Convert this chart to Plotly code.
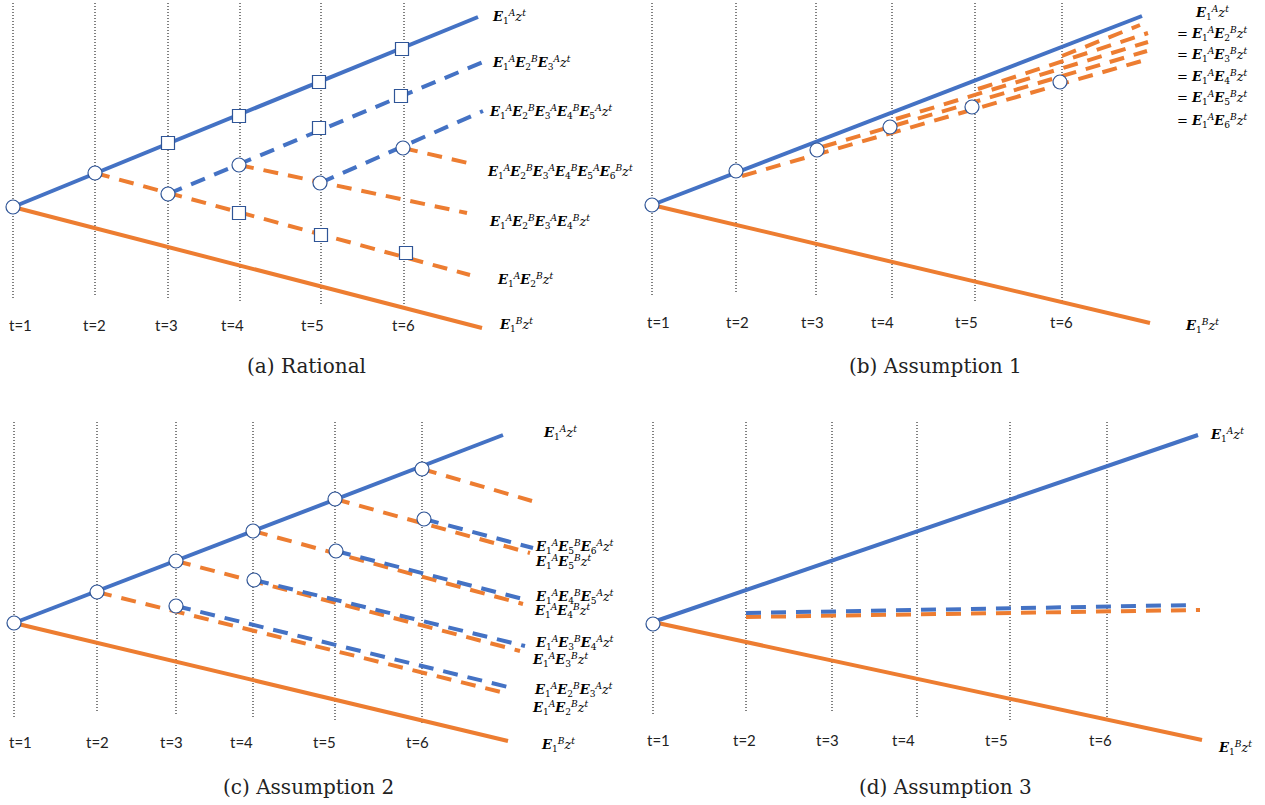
import plotly.graph_objects as go

BLUE = "#4472C4"
ORANGE = "#ED7D31"
EDGE = "#2F5597"
INK = "#222222"

T_LABELS = ["t=1", "t=2", "t=3", "t=4", "t=5", "t=6"]

# ---------------- panel (a) Rational ----------------
A_TX = [13, 95, 168, 240, 321, 404]
A_DOT_TOP = [3, 3, 3, 3, 3, 3]
A_DOT_BOT = [300, 297, 298, 302, 305, 307]
A_TLAB_X = [20, 94, 166, 232, 312, 403]
A_TLAB_Y = 325
A_BLUE_SOLID = [[(13, 207), (478, 17)]]
A_ORANGE_SOLID = [[(13, 207), (482, 328)]]
A_BLUE_DASH = [[(168, 194), (483, 62)], [(320, 183), (483, 111)]]
A_ORANGE_DASH = [[(95, 173), (470, 275)], [(239, 165), (467, 213)], [(403, 148), (468, 163)]]
A_CIRC_X = [13, 95, 168, 239, 320, 403]
A_CIRC_Y = [207, 173, 194, 165, 183, 148]
A_SQ_X = [168, 239, 319, 402, 319, 401, 239, 321, 406]
A_SQ_Y = [143, 116, 82, 49, 128, 96, 213, 235, 253]
A_LAB = [[("1", "A")], [("1", "A"), ("2", "B"), ("3", "A")],
         [("1", "A"), ("2", "B"), ("3", "A"), ("4", "B"), ("5", "A")],
         [("1", "A"), ("2", "B"), ("3", "A"), ("4", "B"), ("5", "A"), ("6", "B")],
         [("1", "A"), ("2", "B"), ("3", "A"), ("4", "B")],
         [("1", "A"), ("2", "B")], [("1", "B")]]
A_LAB_X = [490, 490, 487, 485, 487, 495, 497]
A_LAB_Y = [17, 63, 112, 172, 222, 280, 325]

# ---------------- panel (b) Assumption 1 ----------------
B_TX = [652, 736, 816, 892, 975, 1062]
B_DOT_TOP = [3, 3, 3, 3, 3, 3]
B_DOT_BOT = [297, 293, 295, 298, 302, 303]
B_TLAB_X = [658, 737, 812, 882, 966, 1061]
B_TLAB_Y = 322
B_BLUE_SOLID = [[(652, 205), (1142, 16)]]
B_ORANGE_SOLID = [[(652, 205), (1150, 323)]]
B_BLUE_DASH = []
B_ORANGE_DASH = [[(742, 176), (1145, 60)], [(822, 147), (1147, 51)], [(896, 119), (1148, 42)],
                 [(978, 89), (1148, 33)], [(1062, 56), (1140, 25)]]
B_CIRC_X = [652, 736, 817, 890, 972, 1060]
B_CIRC_Y = [205, 171, 150, 127, 107, 82]
B_STACK = [(None, [("1", "A")]), ("= ", [("1", "A"), ("2", "B")]), ("= ", [("1", "A"), ("3", "B")]),
           ("= ", [("1", "A"), ("4", "B")]), ("= ", [("1", "A"), ("5", "B")]),
           ("= ", [("1", "A"), ("6", "B")])]
B_STACK_X = 1212
B_STACK_Y = [13, 34, 55, 77, 98, 121]
B_LOW_LAB = [("1", "B")]
B_LOW_X, B_LOW_Y = 1183, 326

# ---------------- panel (c) Assumption 2 ----------------
C_TX = [14, 97, 176, 253, 335, 422]
C_DOT_TOP = [422, 422, 422, 422, 422, 422]
C_DOT_BOT = [717, 713, 715, 718, 722, 723]
C_TLAB_X = [20, 97, 171, 241, 324, 417]
C_TLAB_Y = 742
C_BLUE_SOLID = [[(14, 623), (503, 435)]]
C_ORANGE_SOLID = [[(14, 623), (508, 741)]]
C_ORANGE_DASH = [[(97, 592), (505, 693)], [(176, 561), (520, 651)], [(253, 531), (523, 604)],
                 [(335, 499), (530, 553)], [(422, 469), (532, 501)]]
C_BLUE_DASH = [[(176, 606), (508, 687)], [(254, 580), (525, 646)], [(336, 551), (527, 600)],
               [(424, 519), (533, 548)]]
C_CIRC_X = [14, 97, 176, 253, 335, 422, 176, 254, 336, 424]
C_CIRC_Y = [623, 592, 561, 531, 499, 469, 606, 580, 551, 519]
C_LAB = [[("1", "A")],
         [("1", "A"), ("5", "B"), ("6", "A")], [("1", "A"), ("5", "B")],
         [("1", "A"), ("4", "B"), ("5", "A")], [("1", "A"), ("4", "B")],
         [("1", "A"), ("3", "B"), ("4", "A")], [("1", "A"), ("3", "B")],
         [("1", "A"), ("2", "B"), ("3", "A")], [("1", "A"), ("2", "B")],
         [("1", "B")]]
C_LAB_X = [541, 533, 533, 533, 532, 533, 530, 532, 530, 539]
C_LAB_Y = [433, 547, 562, 597, 611, 643, 660, 690, 708, 745]

# ---------------- panel (d) Assumption 3 ----------------
D_TX = [653, 746, 832, 917, 1010, 1107]
D_DOT_TOP = [422, 422, 422, 422, 422, 422]
D_DOT_BOT = [715, 712, 713, 717, 720, 722]
D_TLAB_X = [658, 744, 827, 903, 996, 1100]
D_TLAB_Y = 740
D_BLUE_SOLID = [[(653, 622), (1198, 435)]]
D_ORANGE_SOLID = [[(653, 622), (1202, 740)]]
D_BLUE_DASH = [[(746, 613), (1193, 605)]]
D_ORANGE_DASH = [[(746, 617), (1200, 610)]]
D_CIRC_X = [653]
D_CIRC_Y = [624]
D_LAB = [[("1", "A")], [("1", "B")]]
D_LAB_X = [1208, 1216]
D_LAB_Y = [435, 748]

CAPTIONS = ["(a) Rational", "(b) Assumption 1", "(c) Assumption 2", "(d) Assumption 3"]
CAP_X = [306, 935, 308, 945]
CAP_Y = [366, 366, 787, 787]


def E(sub, sup):
    return f"<b><i>E</i></b><sub>{sub}</sub><sup><i>{sup}</i></sup>"


ZT = "<i>z</i><sup><i>t</i></sup>"


def expr(tokens, prefix=None):
    s = "".join(E(a, b) for a, b in tokens) + ZT
    return (prefix or "") + s


fig = go.Figure()
LAB_FONT = dict(family="DejaVu Serif", size=13, color="black")
T_FONT = dict(family="Lato", size=15, color=INK)
CAP_FONT = dict(family="DejaVu Serif", size=20, color=INK)
DASH = "15px,10px"
DOT = "1px,2px"


def add_seg(segs, color, dash, xa, ya, width=4):
    for p0, p1 in segs:
        fig.add_trace(go.Scatter(x=[p0[0], p1[0]], y=[p0[1], p1[1]], mode="lines",
                                 line=dict(color=color, width=width, dash=dash),
                                 xaxis=xa, yaxis=ya, hoverinfo="skip", showlegend=False))


def add_panel(tx, top, bot, tlx, tly, blue_s, orange_s, blue_d, orange_d, cx, cy, xa, ya,
              sqx=None, sqy=None):
    for x, t0, b0 in zip(tx, top, bot):
        fig.add_trace(go.Scatter(x=[x, x], y=[t0, b0], mode="lines",
                                 line=dict(color="black", width=1, dash=DOT),
                                 xaxis=xa, yaxis=ya, hoverinfo="skip", showlegend=False))
    add_seg(orange_d, ORANGE, DASH, xa, ya)
    add_seg(blue_d, BLUE, DASH, xa, ya)
    add_seg(blue_s, BLUE, "solid", xa, ya)
    add_seg(orange_s, ORANGE, "solid", xa, ya)
    fig.add_trace(go.Scatter(x=cx, y=cy, mode="markers",
                             marker=dict(symbol="circle", size=14, color="white",
                                         line=dict(color=EDGE, width=1.2)),
                             xaxis=xa, yaxis=ya, hoverinfo="skip", showlegend=False))
    if sqx:
        fig.add_trace(go.Scatter(x=sqx, y=sqy, mode="markers",
                                 marker=dict(symbol="square", size=13, color="white",
                                             line=dict(color=EDGE, width=1.2)),
                                 xaxis=xa, yaxis=ya, hoverinfo="skip", showlegend=False))
    for lab, x in zip(T_LABELS, tlx):
        fig.add_annotation(x=x, y=tly, text=lab, showarrow=False, xref=xa, yref=ya,
                           font=T_FONT, xanchor="center", yanchor="middle")


add_panel(A_TX, A_DOT_TOP, A_DOT_BOT, A_TLAB_X, A_TLAB_Y, A_BLUE_SOLID, A_ORANGE_SOLID,
          A_BLUE_DASH, A_ORANGE_DASH, A_CIRC_X, A_CIRC_Y, "x", "y", A_SQ_X, A_SQ_Y)
add_panel(B_TX, B_DOT_TOP, B_DOT_BOT, B_TLAB_X, B_TLAB_Y, B_BLUE_SOLID, B_ORANGE_SOLID,
          B_BLUE_DASH, B_ORANGE_DASH, B_CIRC_X, B_CIRC_Y, "x2", "y2")
add_panel(C_TX, C_DOT_TOP, C_DOT_BOT, C_TLAB_X, C_TLAB_Y, C_BLUE_SOLID, C_ORANGE_SOLID,
          C_BLUE_DASH, C_ORANGE_DASH, C_CIRC_X, C_CIRC_Y, "x3", "y3")
add_panel(D_TX, D_DOT_TOP, D_DOT_BOT, D_TLAB_X, D_TLAB_Y, D_BLUE_SOLID, D_ORANGE_SOLID,
          D_BLUE_DASH, D_ORANGE_DASH, D_CIRC_X, D_CIRC_Y, "x4", "y4")

for toks, x, y in zip(A_LAB, A_LAB_X, A_LAB_Y):
    fig.add_annotation(x=x, y=y, text=expr(toks), showarrow=False, xref="x", yref="y",
                       font=LAB_FONT, xanchor="left", yanchor="middle")
for (pre, toks), y in zip(B_STACK, B_STACK_Y):
    fig.add_annotation(x=B_STACK_X, y=y, text=expr(toks, pre), showarrow=False, xref="x2",
                       yref="y2", font=LAB_FONT, xanchor="center", yanchor="middle")
fig.add_annotation(x=B_LOW_X, y=B_LOW_Y, text=expr(B_LOW_LAB), showarrow=False, xref="x2",
                   yref="y2", font=LAB_FONT, xanchor="left", yanchor="middle")
for toks, x, y in zip(C_LAB, C_LAB_X, C_LAB_Y):
    fig.add_annotation(x=x, y=y, text=expr(toks), showarrow=False, xref="x3", yref="y3",
                       font=LAB_FONT, xanchor="left", yanchor="middle")
for toks, x, y in zip(D_LAB, D_LAB_X, D_LAB_Y):
    fig.add_annotation(x=x, y=y, text=expr(toks), showarrow=False, xref="x4", yref="y4",
                       font=LAB_FONT, xanchor="left", yanchor="middle")

for cap, x, y, xa, ya in zip(CAPTIONS, CAP_X, CAP_Y, ["x", "x2", "x3", "x4"], ["y", "y2", "y3", "y4"]):
    fig.add_annotation(x=x, y=y, text=cap, showarrow=False, xref=xa, yref=ya,
                       font=CAP_FONT, xanchor="center", yanchor="middle")

W, H = 1265, 805
SPLIT_X, SPLIT_Y = 635, 400
ax_common = dict(visible=False, showgrid=False, zeroline=False, fixedrange=True)
fig.update_layout(
    width=W, height=H, margin=dict(l=0, r=0, t=0, b=0),
    paper_bgcolor="white", plot_bgcolor="white", showlegend=False,
    xaxis=dict(domain=[0, SPLIT_X / W], range=[0, SPLIT_X], anchor="y", **ax_common),
    yaxis=dict(domain=[1 - SPLIT_Y / H, 1], range=[SPLIT_Y, 0], anchor="x", **ax_common),
    xaxis2=dict(domain=[SPLIT_X / W, 1], range=[SPLIT_X, W], anchor="y2", **ax_common),
    yaxis2=dict(domain=[1 - SPLIT_Y / H, 1], range=[SPLIT_Y, 0], anchor="x2", **ax_common),
    xaxis3=dict(domain=[0, SPLIT_X / W], range=[0, SPLIT_X], anchor="y3", **ax_common),
    yaxis3=dict(domain=[0, 1 - SPLIT_Y / H], range=[H, SPLIT_Y], anchor="x3", **ax_common),
    xaxis4=dict(domain=[SPLIT_X / W, 1], range=[SPLIT_X, W], anchor="y4", **ax_common),
    yaxis4=dict(domain=[0, 1 - SPLIT_Y / H], range=[H, SPLIT_Y], anchor="x4", **ax_common),
)

fig.write_html("out.html")
